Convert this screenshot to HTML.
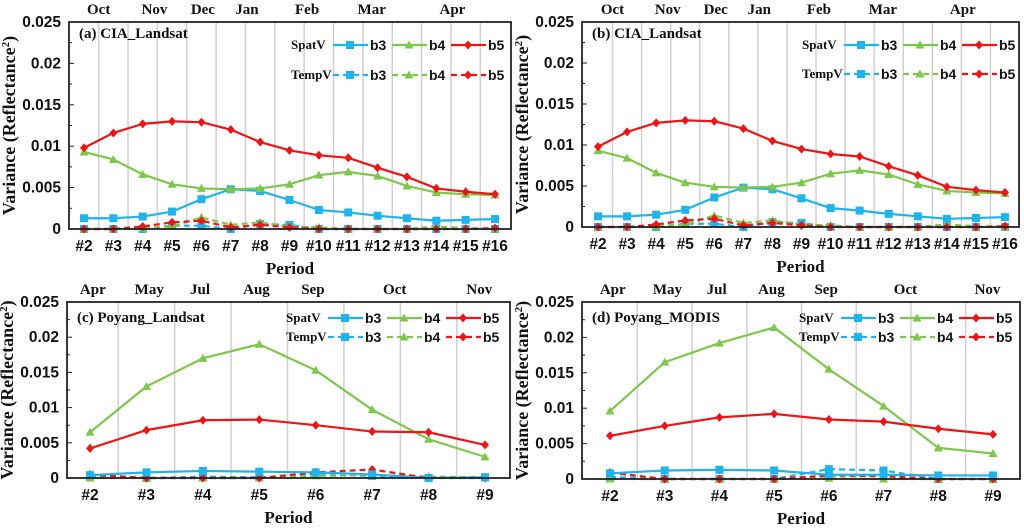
<!DOCTYPE html>
<html><head><meta charset="utf-8"><style>
html,body{margin:0;padding:0;background:#fff;width:1024px;height:530px;overflow:hidden}
svg{display:block}
.serif{font-family:"Liberation Serif",serif;font-weight:bold}
.sans{font-family:"Liberation Sans",sans-serif;font-weight:bold}
</style></head><body>
<svg id="chart" width="1024" height="530" viewBox="0 0 1024 530" xmlns="http://www.w3.org/2000/svg"></svg>
<script>
// ---- data ----
const periodsCIA = ["#2","#3","#4","#5","#6","#7","#8","#9","#10","#11","#12","#13","#14","#15","#16"];
const periodsPoyang = ["#2","#3","#4","#5","#6","#7","#8","#9"];
const yTickValues = [0,0.005,0.01,0.015,0.02,0.025];
const yTickLabels = ["0","0.005","0.01","0.015","0.02","0.025"];
const monthsCIA = ["Oct","Nov","Dec","Jan","Feb","Mar","Apr"];
const monthsPoyang = ["Apr","May","Jul","Aug","Sep","Oct","Nov"];
const monthPosCIA = [0.5,2.4,4.05,5.55,7.6,9.8,12.55];
const monthPosPoyang = [0.05,1.05,1.95,2.95,3.95,5.4,6.9];

const aSpatB3 = [.0013,.0013,.0015,.0021,.0036,.0048,.0046,.0035,.0023,.0020,.0016,.0013,.0010,.0011,.0012];
const aSpatB4 = [.0093,.0084,.0066,.0054,.0049,.0048,.0049,.0054,.0065,.0069,.0064,.0052,.0044,.0042,.0041];
const aSpatB5 = [.0098,.0116,.0127,.0130,.0129,.0120,.0105,.0095,.0089,.0086,.0074,.0063,.0049,.0045,.0042];
const aTempB3 = [0,0,0,.0004,.0004,0,.0006,.0005,0,0,0,0,0,0,0];
const aTempB4 = [0,0,.0001,.0003,.0014,.0005,.0008,.0003,.0002,0,0,0,.0003,.0001,0];
const aTempB5 = [0,0,.0003,.0008,.0010,.0002,.0005,.0002,0,0,0,0,0,0,.0001];

const bSpatB3 = [.0013,.0013,.0015,.0021,.0036,.0048,.0046,.0035,.0023,.0020,.0016,.0013,.0010,.0011,.0012];
const bSpatB4 = [.0093,.0084,.0066,.0054,.0049,.0048,.0049,.0054,.0065,.0069,.0064,.0052,.0044,.0042,.0041];
const bSpatB5 = [.0098,.0116,.0127,.0130,.0129,.0120,.0105,.0095,.0089,.0086,.0074,.0063,.0049,.0045,.0042];
const bTempB3 = [0,0,0,.0004,.0004,0,.0006,.0005,0,0,0,0,0,0,0];
const bTempB4 = [0,0,.0001,.0003,.0014,.0005,.0008,.0003,.0002,0,0,0,.0003,.0001,0];
const bTempB5 = [0,0,.0003,.0008,.0010,.0002,.0005,.0002,0,0,0,0,0,0,.0001];

const cSpatB3 = [.0004,.0008,.0010,.0009,.0008,.0005,0,.0001];
const cSpatB4 = [.0065,.0130,.0170,.0190,.0153,.0097,.0055,.0030];
const cSpatB5 = [.0042,.0068,.0082,.0083,.0075,.0066,.0065,.0047];
const cTempB3 = [.0003,0,.0002,.0001,.0005,.0003,0,.0001];
const cTempB4 = [0,0,0,0,.0003,.0004,.0002,.0001];
const cTempB5 = [.0005,0,0,0,.0008,.0012,0,0];

const dSpatB3 = [.0008,.0012,.0013,.0012,.0006,.0006,.0005,.0005];
const dSpatB4 = [.0096,.0165,.0192,.0214,.0155,.0103,.0044,.0036];
const dSpatB5 = [.0061,.0075,.0087,.0092,.0084,.0081,.0071,.0063];
const dTempB3 = [.0003,0,0,0,.0014,.0012,0,0];
const dTempB4 = [0,0,0,0,.0001,0,0,0];
const dTempB5 = [.0009,0,0,0,.0005,.0004,0,0];

const NS="http://www.w3.org/2000/svg";
const svg=document.getElementById('chart');
function mk(tag,attrs,parent){const e=document.createElementNS(NS,tag);for(const k in attrs)e.setAttribute(k,attrs[k]);(parent||svg).appendChild(e);return e;}
const COL={b3:"#1eb4ee",b4:"#7cc84a",b5:"#f01414"};

function marker(g,type,x,y,color){
  let m;
  if(type==="b3") m=mk('rect',{x:x-4,y:y-4,width:8,height:8,fill:color},g);
  else if(type==="b4") m=mk('polygon',{points:`${x},${y-4.5} ${x+4.5},${y+3.5} ${x-4.5},${y+3.5}`,fill:color},g);
  else m=mk('polygon',{points:`${x},${y-4.5} ${x+4},${y} ${x},${y+4.5} ${x-4},${y}`,fill:color},g);
  
  
}

function panel(p){
  const g=mk('g',{});
  
  
  const n=p.cats.length;
  const xs=i=>p.x0+(p.x1-p.x0)*i/(n-1);
  const ys=v=>p.B-(p.B-p.T)*v/0.025;
  for(let i=0;i<n-1;i++){
    const gx=(xs(i)+xs(i+1))/2;
    mk('line',{x1:gx,x2:gx,y1:p.T,y2:p.B,stroke:"#d0d0d0","stroke-width":1.5},g);
  }
  yTickValues.forEach((v,i)=>{
    const t=mk('text',{x:p.L-8,y:ys(v)+5,"text-anchor":"end","font-size":15.5,class:"sans",fill:"#111"},g);
    t.textContent=yTickLabels[i];
    
    
    mk('line',{x1:p.L,x2:p.L+5,y1:ys(v),y2:ys(v),stroke:"#222"},g);
    if(i<yTickValues.length-1) mk('line',{x1:p.L,x2:p.L+3,y1:ys(v+0.0025),y2:ys(v+0.0025),stroke:"#222"},g);
  });
  p.cats.forEach((c,i)=>{
    const t=mk('text',{x:xs(i),y:p.B+22,"text-anchor":"middle","font-size":15.5,class:"sans",fill:"#111"},g);
    t.textContent=c;
    
    
  });
  p.months.forEach((m,i)=>{
    const t=mk('text',{x:xs(p.mpos[i]),y:p.T-8,"text-anchor":"middle","font-size":15,class:"serif",fill:"#111"},g);
    t.textContent=m;
    
    
  });
  const xt=mk('text',{x:(p.L+p.R)/2,y:p.B+45,"text-anchor":"middle","font-size":17,class:"serif",fill:"#111"},g);
  xt.textContent="Period";
  
  
  const yc=(p.T+p.B)/2;
  const yt=mk('text',{x:p.L-54,y:yc,"text-anchor":"middle","font-size":18,class:"serif",fill:"#111",transform:`rotate(-90 ${p.L-54} ${yc})`},g);
  yt.innerHTML='Variance (Reflectance<tspan baseline-shift="super" font-size="11">2</tspan>)';
  
  
  const series=[["b3",p.t3,true],["b4",p.t4,true],["b5",p.t5,true],["b3",p.s3,false],["b4",p.s4,false],["b5",p.s5,false]];
  series.forEach(([b,vals,dash])=>{
    const sg=mk('g',{},g);
    
    
    const pts=vals.map((v,i)=>xs(i)+","+ys(v)).join(" ");
    mk('polyline',{points:pts,fill:"none",stroke:COL[b],"stroke-width":2.2,"stroke-dasharray":dash?"6,4":"none"},sg);
    vals.forEach((v,i)=>marker(sg,b,xs(i),ys(v),COL[b]));
  });
  mk('rect',{x:p.L,y:p.T,width:p.R-p.L,height:p.B-p.T,fill:"none",stroke:"#222","stroke-width":1.8},g);
  const tt=mk('text',{x:p.L+10,y:p.T+(p.cats.length>10?16:20),"font-size":15,class:"serif",fill:"#111"},g);
  tt.textContent=p.title;
  
  
  const lg=mk('g',{},g);
  
  
  [["SpatV",p.leg1,false],["TempV",p.leg2,true]].forEach(([lab,ly,dash])=>{
    const t=mk('text',{x:p.L+p.legx,y:ly+4,"font-size":13,class:"serif",fill:"#111"},lg);
    t.textContent=lab;
    ["b3","b4","b5"].forEach((b,k)=>{
      const lx=p.L+p.legx+42+k*59;
      const e=mk('g',{},lg);
      
      
      mk('line',{x1:lx,x2:lx+35,y1:ly,y2:ly,stroke:COL[b],"stroke-width":2.2,"stroke-dasharray":dash?"6,4":"none"},e);
      marker(e,b,lx+17,ly,COL[b]);
      const bt=mk('text',{x:lx+37,y:ly+5,"font-size":14,class:"sans",fill:"#111"},e);
      bt.textContent=b;
    });
  });
}

panel({name:"panel-a",title:"(a) CIA_Landsat",L:69,R:511,T:22,B:229,x0:84,x1:495,cats:periodsCIA,months:monthsCIA,mpos:monthPosCIA,
  s3:aSpatB3,s4:aSpatB4,s5:aSpatB5,t3:aTempB3,t4:aTempB4,t5:aTempB5,legx:222,leg1:45,leg2:75});
panel({name:"panel-b",title:"(b) CIA_Landsat",L:582,R:1019,T:22,B:227,x0:598,x1:1005,cats:periodsCIA,months:monthsCIA,mpos:monthPosCIA,
  s3:bSpatB3,s4:bSpatB4,s5:bSpatB5,t3:bTempB3,t4:bTempB4,t5:bTempB5,legx:220,leg1:45,leg2:74});
panel({name:"panel-c",title:"(c) Poyang_Landsat",L:67,R:510,T:302,B:478,x0:90,x1:485,cats:periodsPoyang,months:monthsPoyang,mpos:monthPosPoyang,
  s3:cSpatB3,s4:cSpatB4,s5:cSpatB5,t3:cTempB3,t4:cTempB4,t5:cTempB5,legx:219,leg1:318,leg2:337});
panel({name:"panel-d",title:"(d) Poyang_MODIS",L:582,R:1020,T:302,B:479,x0:610,x1:993,cats:periodsPoyang,months:monthsPoyang,mpos:monthPosPoyang,
  s3:dSpatB3,s4:dSpatB4,s5:dSpatB5,t3:dTempB3,t4:dTempB4,t5:dTempB5,legx:217,leg1:318,leg2:337});
</script>
</body></html>
